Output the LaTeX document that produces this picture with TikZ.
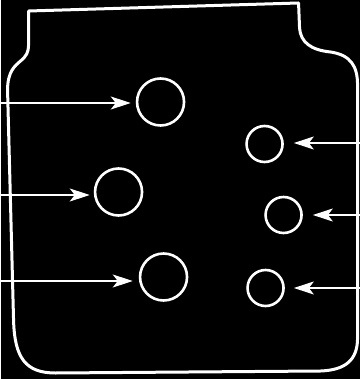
\documentclass[tikz,border=0pt]{standalone}
\usetikzlibrary{arrows.meta}

\begin{document}
\begin{tikzpicture}[x=1pt, y=-1pt,
	hole/.style={circle, draw=white, line width=2.6pt, inner sep=0pt},
	bighole/.style={hole, minimum size=47pt},
	smallhole/.style={hole, minimum size=36pt},
	pointer/.style={draw=white, line width=1.1pt, -{Stealth[length=20pt, width=13pt, inset=5pt]}}]
	\fill[black] (0,0) rectangle (359,379);
	% outline of the jar
	\draw[white, line width=3pt, line join=round]
		(28,11) -- (298,3) -- (299,28)
		.. controls (300,42) and (310,50) .. (330,52)
		.. controls (350,55) and (357,66) .. (357,85)
		-- (357,338) .. controls (357,360) and (345,370) .. (320,371)
		-- (55,373) .. controls (25,373) and (14,358) .. (13,320)
		-- (7,90) .. controls (7,72) and (14,66) .. (20,61)
		.. controls (26,56) and (28,52) .. (28,45) -- cycle;
	% holes
	\node[bighole] (c1) at (160,102) {};
	\node[bighole] (c2) at (118,192) {};
	\node[bighole] (c3) at (163,277) {};
	\node[smallhole] (c4) at (264,144) {};
	\node[smallhole] (c5) at (283,215) {};
	\node[smallhole] (c6) at (265,288) {};
	% arrows
	\coordinate (in1) at (0,103);
	\coordinate (in2) at (0,195);
	\coordinate (in3) at (0,281);
	\coordinate (in4) at (359,143);
	\coordinate (in5) at (359,215);
	\coordinate (in6) at (359,288);
	\draw[pointer, shorten >=5pt] (in1) -- (in1 -| c1.west);
	\draw[pointer, shorten >=4pt] (in2) -- (in2 -| c2.west);
	\draw[pointer, shorten >=6pt] (in3) -- (in3 -| c3.west);
	\draw[pointer, shorten >=10pt] (in4) -- (in4 -| c4.east);
	\draw[pointer, shorten >=10pt] (in5) -- (in5 -| c5.east);
	\draw[pointer, shorten >=9pt] (in6) -- (in6 -| c6.east);
\end{tikzpicture}
\end{document}
